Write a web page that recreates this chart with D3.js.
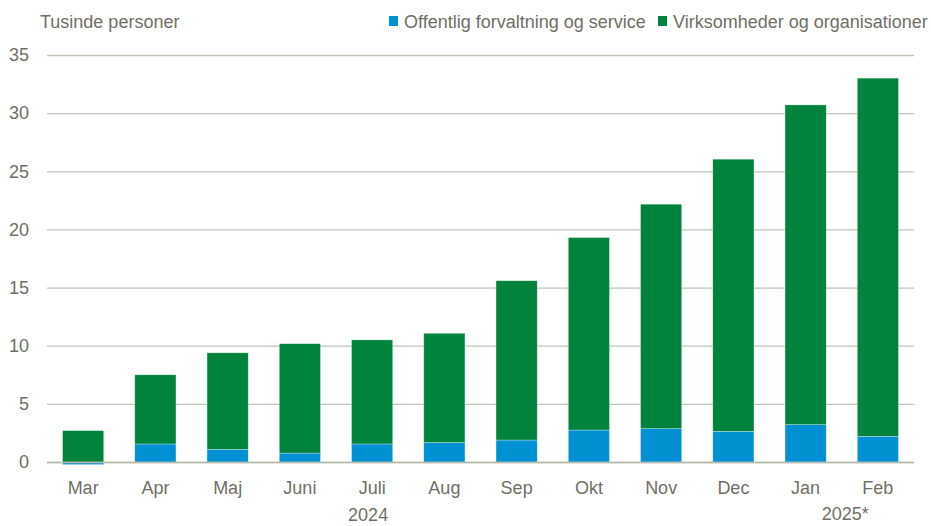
<!DOCTYPE html>
<html lang="da">
<head>
    <meta charset="UTF-8">
    <title>Tusinde personer</title>
    <script src="https://d3js.org/d3.v7.min.js"></script>
    <style>
        body { margin: 0; background: #fff; }
        text { font-family: "Liberation Sans", Arial, sans-serif; fill: #6f6f66; }
    </style>
</head>
<body>
    <div id="chart"></div>

    <script>
        // data
        var months = ["Mar", "Apr", "Maj", "Juni", "Juli", "Aug", "Sep", "Okt", "Nov", "Dec", "Jan", "Feb"];
        var offentlig = [-0.22, 1.55, 1.09, 0.77, 1.55, 1.67, 1.89, 2.75, 2.87, 2.64, 3.21, 2.21];
        var virksomheder = [2.7, 5.95, 8.3, 9.4, 8.95, 9.4, 13.7, 16.55, 19.3, 23.4, 27.5, 30.8];
        var yTicks = [0, 5, 10, 15, 20, 25, 30, 35];
        var seriesNames = ["Offentlig forvaltning og service", "Virksomheder og organisationer"];
        var seriesColors = ["#0091d5", "#00843d"];
        var yearLabels = ["2024", "2025*"];

        var W = 931, H = 526;
        var margin = {top: 55, right: 17, bottom: 64, left: 47};
        var width = W - margin.left - margin.right;
        var height = H - margin.top - margin.bottom;

        var svg = d3.select("#chart").append("svg")
            .attr("width", W)
            .attr("height", H);

        var g = svg.append("g")
            .attr("transform", `translate(${margin.left},${margin.top})`);

        var rows = months.map(function(m, i) {
            return { month: m, off: offentlig[i], virk: virksomheder[i] };
        });

        var stack = d3.stack()
            .keys(["off", "virk"])
            .offset(d3.stackOffsetDiverging);
        var layers = stack(rows);

        var x = d3.scaleBand()
            .domain(months)
            .range([0, width])
            .paddingInner(0.43)
            .paddingOuter(0.215);

        var y = d3.scaleLinear()
            .domain([0, 35])
            .range([height, 0]);

        // gridlines
        g.append("g")
            .selectAll("line")
            .data(yTicks)
            .join("line")
            .attr("x1", 0)
            .attr("x2", width)
            .attr("y1", function(d) { return y(d) + 0.5; })
            .attr("y2", function(d) { return y(d) + 0.5; })
            .attr("stroke", "#c4c3b9")
            .attr("stroke-width", 1.3);

        // y axis labels
        var yAxis = g.append("g")
            .call(d3.axisLeft(y).tickValues(yTicks).tickSize(0).tickPadding(18));
        yAxis.select(".domain").remove();
        yAxis.selectAll("text")
            .style("font-size", "18px")
            .attr("fill", "#6f6f66");

        // bars
        g.append("g")
            .selectAll("g")
            .data(layers)
            .join("g")
            .attr("fill", function(d, i) { return seriesColors[i]; })
            .selectAll("rect")
            .data(function(d) { return d; })
            .join("rect")
            .attr("x", function(d) { return x(d.data.month); })
            .attr("width", x.bandwidth())
            .attr("y", function(d) { return y(Math.max(d[0], d[1])); })
            .attr("height", function(d) { return Math.abs(y(d[0]) - y(d[1])); })
            .attr("stroke", "#ffffff")
            .attr("stroke-opacity", 0.5)
            .attr("stroke-width", 0.6);

        // zero line on top
        g.append("line")
            .attr("x1", 0)
            .attr("x2", width)
            .attr("y1", y(0) + 0.5)
            .attr("y2", y(0) + 0.5)
            .attr("stroke", "#b9b8ad")
            .attr("stroke-width", 1.3);

        // x axis labels
        var xAxis = g.append("g")
            .attr("transform", `translate(0,${height})`)
            .call(d3.axisBottom(x).tickSize(0).tickPadding(19));
        xAxis.select(".domain").remove();
        xAxis.selectAll("text")
            .style("font-size", "18px")
            .attr("fill", "#6f6f66");

        // year labels under the month labels
        var yearPos = [
            { x: x("Juli") + x.bandwidth() / 2 - 4, y: height + 59 },
            { x: x("Feb") - 12, y: height + 58 }
        ];
        g.append("g")
            .selectAll("text")
            .data(yearLabels)
            .join("text")
            .attr("x", function(d, i) { return yearPos[i].x; })
            .attr("y", function(d, i) { return yearPos[i].y; })
            .attr("text-anchor", "middle")
            .style("font-size", "18px")
            .text(function(d) { return d; });

        // title
        svg.append("text")
            .attr("x", 40)
            .attr("y", 28)
            .style("font-size", "18px")
            .text("Tusinde personer");

        // legend
        var legendX = [389, 658];
        var legend = svg.append("g")
            .selectAll("g")
            .data(seriesNames)
            .join("g")
            .attr("transform", function(d, i) { return `translate(${legendX[i]},0)`; });
        legend.append("rect")
            .attr("x", 0)
            .attr("y", 16)
            .attr("width", 9)
            .attr("height", 10)
            .attr("fill", function(d, i) { return seriesColors[i]; });
        legend.append("text")
            .attr("x", 15)
            .attr("y", 28)
            .style("font-size", "18px")
            .text(function(d) { return d; });
    </script>
</body>
</html>
